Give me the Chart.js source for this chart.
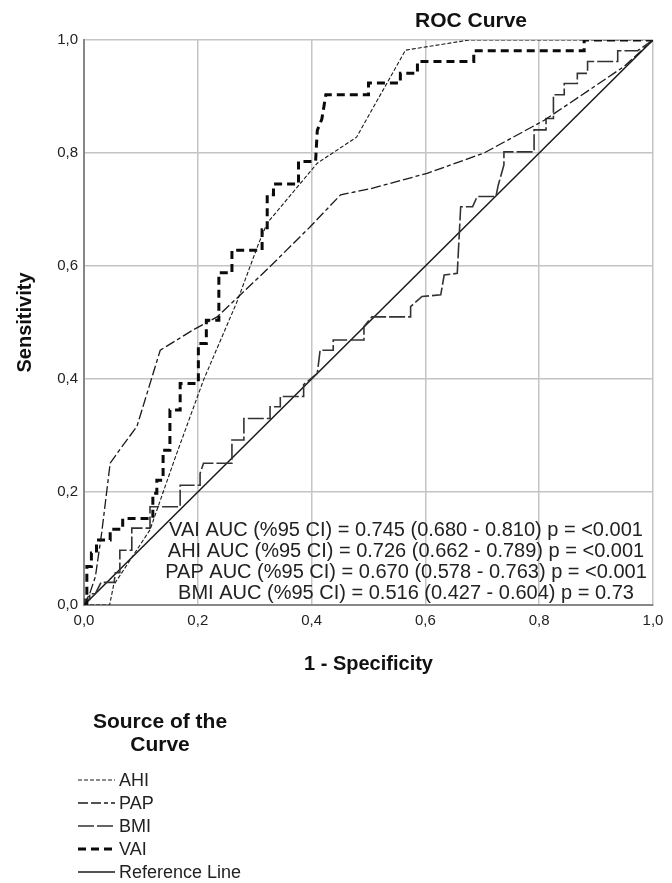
<!DOCTYPE html>
<html>
<head>
<meta charset="utf-8">
<title>ROC Curve</title>
<script src="https://cdn.jsdelivr.net/npm/chart.js@4.4.1/dist/chart.umd.min.js"></script>
<style>
  html, body { margin: 0; padding: 0; background: #fff; }
  #wrap { position: relative; width: 672px; height: 883px; }
</style>
</head>
<body>
<div id="wrap"><canvas id="chart"></canvas></div>
<script>
// ROC points as [1 - specificity, sensitivity]
const ahiPoints = [[0, 0], [0.045, 0], [0.052, 0.035], [0.116, 0.133], [0.16, 0.26], [0.21, 0.398], [0.269, 0.537],
  [0.307, 0.64], [0.322, 0.676], [0.41, 0.782], [0.479, 0.828], [0.565, 0.982], [0.677, 1], [1, 1]];

const papPoints = [[0, 0], [0.01, 0.02], [0.02, 0.05], [0.031, 0.127], [0.046, 0.251], [0.06, 0.271], [0.093, 0.316],
  [0.134, 0.451], [0.192, 0.487], [0.234, 0.51], [0.327, 0.599], [0.398, 0.67], [0.451, 0.726], [0.504, 0.737],
  [0.603, 0.764], [0.703, 0.8], [0.809, 0.858], [0.949, 0.953], [1, 1]];

const bmiPoints = [[0, 0], [0, 0.01], [0.01, 0.01], [0.01, 0.02], [0.02, 0.02], [0.03, 0.04], [0.053, 0.04],
  [0.055, 0.057], [0.063, 0.057], [0.063, 0.097], [0.084, 0.097], [0.084, 0.136], [0.116, 0.136], [0.116, 0.174],
  [0.169, 0.174], [0.169, 0.212], [0.204, 0.212], [0.204, 0.233], [0.21, 0.251], [0.26, 0.251], [0.26, 0.292],
  [0.281, 0.292], [0.281, 0.33], [0.327, 0.33], [0.327, 0.351], [0.345, 0.351], [0.345, 0.369], [0.386, 0.369],
  [0.386, 0.39], [0.41, 0.41], [0.415, 0.451], [0.438, 0.451], [0.438, 0.469], [0.492, 0.469], [0.492, 0.493],
  [0.506, 0.51], [0.574, 0.51], [0.574, 0.528], [0.594, 0.546], [0.627, 0.549], [0.633, 0.584], [0.656, 0.587],
  [0.662, 0.705], [0.683, 0.705], [0.691, 0.723], [0.724, 0.723], [0.728, 0.743], [0.738, 0.779], [0.738, 0.802],
  [0.791, 0.802], [0.791, 0.841], [0.812, 0.841], [0.812, 0.861], [0.825, 0.861], [0.825, 0.903], [0.844, 0.903],
  [0.844, 0.923], [0.867, 0.923], [0.867, 0.941], [0.885, 0.941], [0.885, 0.962], [0.938, 0.962], [0.938, 0.981],
  [0.973, 0.981], [1, 1]];

const vaiPoints = [[0, 0], [0.005, 0], [0.005, 0.068], [0.013, 0.068], [0.013, 0.092], [0.022, 0.092], [0.022, 0.115],
  [0.046, 0.115], [0.046, 0.134], [0.068, 0.134], [0.068, 0.153], [0.121, 0.153], [0.121, 0.198], [0.128, 0.198],
  [0.128, 0.221], [0.139, 0.221], [0.139, 0.274], [0.151, 0.274], [0.151, 0.345], [0.169, 0.345], [0.169, 0.392],
  [0.201, 0.392], [0.201, 0.463], [0.215, 0.463], [0.215, 0.504], [0.237, 0.504], [0.237, 0.588], [0.26, 0.588],
  [0.26, 0.628], [0.313, 0.628], [0.313, 0.664], [0.322, 0.664], [0.322, 0.726], [0.333, 0.726], [0.333, 0.745],
  [0.377, 0.745], [0.377, 0.785], [0.407, 0.785], [0.41, 0.84], [0.418, 0.86], [0.425, 0.903], [0.5, 0.903],
  [0.5, 0.924], [0.556, 0.924], [0.556, 0.941], [0.586, 0.941], [0.586, 0.962], [0.685, 0.962], [0.685, 0.981],
  [0.879, 0.981], [0.879, 1], [1, 1]];

const refPoints = [[0, 0], [1, 1]];

const seriesNames = ["AHI", "PAP", "BMI", "VAI", "Reference Line"];
const tickLabels = ["0,0", "0,2", "0,4", "0,6", "0,8", "1,0"];
const aucLines = [
  "VAI AUC (%95 CI) = 0.745 (0.680 - 0.810) p = <0.001",
  "AHI AUC (%95 CI) = 0.726 (0.662 - 0.789) p = <0.001",
  "PAP AUC (%95 CI) = 0.670 (0.578 - 0.763) p = <0.001",
  "BMI AUC (%95 CI) = 0.516 (0.427 - 0.604) p = 0.73",
];

const FONT = "'Liberation Sans', Arial, Helvetica, sans-serif";
const toXY = (pts) => pts.map((p) => ({ x: p[0], y: p[1] }));

const lineStyles = [
  { color: "#1a1a1a", width: 1.1, dash: [4, 2] },
  { color: "#1a1a1a", width: 1.3, dash: [10, 3, 10, 3, 4, 3] },
  { color: "#333", width: 1.6, dash: [16, 3] },
  { color: "#0a0a0a", width: 3, dash: [8, 5] },
  { color: "#1a1a1a", width: 1.5, dash: [] },
];

const allPoints = [ahiPoints, papPoints, bmiPoints, vaiPoints, refPoints];

// Texts and legend like the SPSS output
const extrasPlugin = {
  id: "extras",
  afterDraw(chart) {
    const ctx = chart.ctx;
    const area = chart.chartArea;
    ctx.save();
    ctx.fillStyle = "#111";

    ctx.font = "bold 21px " + FONT;
    ctx.textAlign = "center";
    ctx.textBaseline = "middle";
    ctx.fillText("ROC Curve", 471, 21);

    ctx.font = "bold 20px " + FONT;
    ctx.fillText("1 - Specificity", (area.left + area.right) / 2, 664);

    ctx.save();
    ctx.translate(25, (area.top + area.bottom) / 2);
    ctx.rotate(-Math.PI / 2);
    ctx.fillText("Sensitivity", 0, 0);
    ctx.restore();

    // AUC annotation
    ctx.font = "20px " + FONT;
    ctx.fillStyle = "#222";
    aucLines.forEach((t, i) => ctx.fillText(t, 406, 530 + i * 21.3));

    // legend
    ctx.fillStyle = "#111";
    ctx.font = "bold 21px " + FONT;
    ctx.fillText("Source of the", 160, 722);
    ctx.fillText("Curve", 160, 745);

    ctx.font = "18px " + FONT;
    ctx.textAlign = "left";
    seriesNames.forEach((name, i) => {
      const y = 780 + i * 23;
      const s = lineStyles[i];
      ctx.save();
      ctx.strokeStyle = s.color;
      ctx.lineWidth = s.width;
      ctx.setLineDash(s.dash);
      ctx.beginPath();
      ctx.moveTo(78, y);
      ctx.lineTo(115, y);
      ctx.stroke();
      ctx.restore();
      ctx.fillStyle = "#222";
      ctx.fillText(name, 119, y + 1);
    });
    ctx.restore();
  },
};

const ctx = document.getElementById("chart").getContext("2d");
const chart = new Chart(ctx, {
  type: "line",
  data: {
    datasets: seriesNames.map((name, i) => ({
      label: name,
      data: toXY(allPoints[i]),
      borderColor: lineStyles[i].color,
      borderWidth: lineStyles[i].width,
      borderDash: lineStyles[i].dash,
      pointRadius: 0,
      tension: 0,
      fill: false,
    })),
  },
  options: {
    responsive: true,
    maintainAspectRatio: false,
    animation: false,
    layout: { padding: { top: 40, right: 19, bottom: 0, left: 0 } },
    plugins: {
      legend: { display: false },
      tooltip: { enabled: false },
      title: { display: false },
    },
    scales: {
      x: {
        type: "linear",
        min: 0,
        max: 1,
        afterFit: (scale) => { scale.height = 278; },
        ticks: {
          stepSize: 0.2,
          padding: 7,
          color: "#222",
          font: { family: FONT, size: 15 },
          callback: (v, i) => tickLabels[i],
        },
        grid: { color: "#c4c4c4", lineWidth: 1.5, drawTicks: false },
        border: { color: "#888", width: 2 },
      },
      y: {
        type: "linear",
        min: 0,
        max: 1,
        afterFit: (scale) => { scale.width = 84; },
        ticks: {
          stepSize: 0.2,
          padding: 6,
          color: "#222",
          font: { family: FONT, size: 15 },
          callback: (v, i) => tickLabels[i],
        },
        grid: { color: "#c4c4c4", lineWidth: 1.5, drawTicks: false },
        border: { color: "#888", width: 2 },
      },
    },
  },
  plugins: [extrasPlugin],
});
</script>
</body>
</html>
